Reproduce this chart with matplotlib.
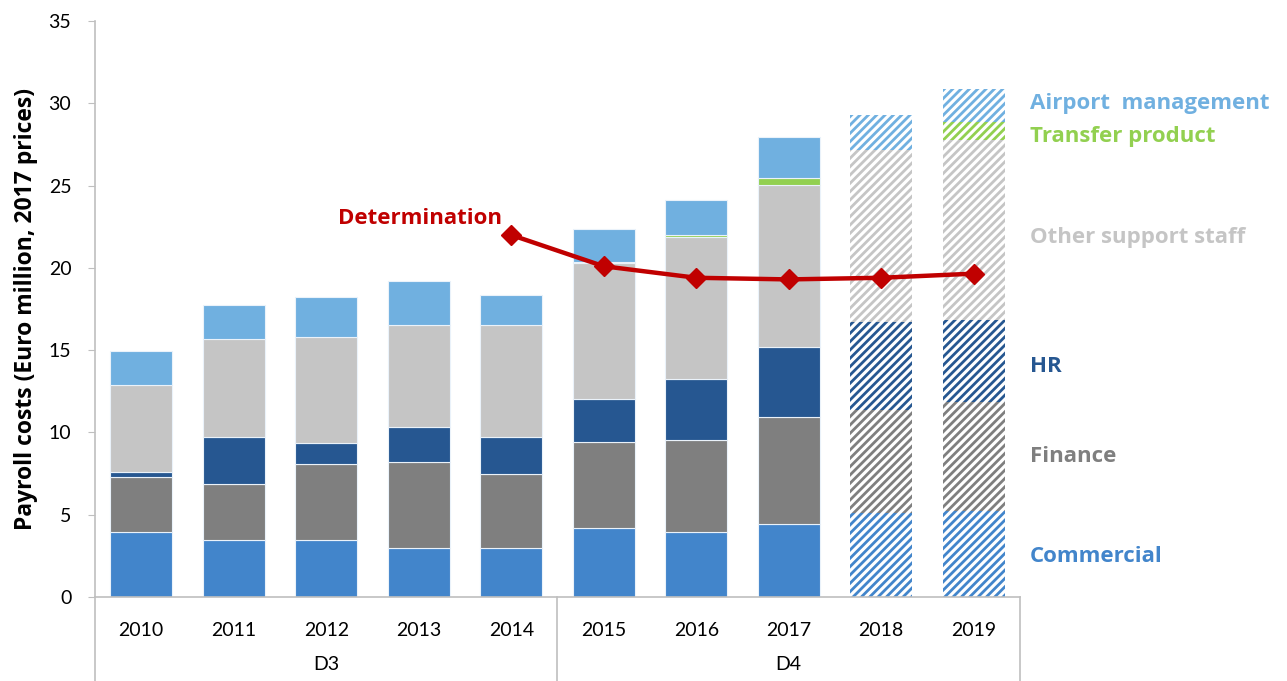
import matplotlib
matplotlib.use("Agg")
import matplotlib.pyplot as plt
import numpy as np

plt.rcParams['font.family'] = ['Lato', 'DejaVu Sans']
plt.rcParams['hatch.linewidth'] = 2.0

years = ["2010", "2011", "2012", "2013", "2014", "2015", "2016", "2017", "2018", "2019"]
groups = ["D3", "D4"]
commercial = [3.95, 3.46, 3.46, 2.98, 2.98, 4.19, 3.95, 4.43, 5.10, 5.20]
finance = [3.35, 3.41, 4.62, 5.22, 4.49, 5.23, 5.59, 6.51, 6.26, 6.65]
hr = [0.30, 2.85, 1.28, 2.13, 2.25, 2.61, 3.70, 4.25, 5.34, 4.98]
other = [5.30, 5.95, 6.44, 6.20, 6.81, 8.27, 8.63, 9.84, 10.46, 10.93]
transfer = [0.0, 0.0, 0.0, 0.0, 0.0, 0.05, 0.13, 0.43, 0.0, 1.10]
airport = [2.05, 2.07, 2.43, 2.67, 1.82, 2.01, 2.10, 2.49, 2.12, 2.00]
determination_years = ["2014", "2015", "2016", "2017", "2018", "2019"]
determination = [22.0, 20.1, 19.4, 19.3, 19.4, 19.65]
forecast = [False] * 8 + [True] * 2

series = [
    ("Commercial", commercial, "#4285CB"),
    ("Finance", finance, "#7F7F7F"),
    ("HR", hr, "#265791"),
    ("Other support staff", other, "#C5C5C5"),
    ("Transfer product", transfer, "#92D050"),
    ("Airport  management", airport, "#70B0E0"),
]
label_y = {"Commercial": 2.47, "Finance": 8.55, "HR": 14.02, "Other support staff": 21.87,
           "Transfer product": 28.0, "Airport  management": 30.0}
label_font = ['Open Sans', 'DejaVu Sans']

fig = plt.figure(figsize=(12.87, 6.81), dpi=100)
ax = fig.add_axes([0.0738, 0.1233, 0.7187, 0.8458])

x = np.arange(len(years))
bottom = np.zeros(len(years))
width = 0.67
for name, vals, col in series:
    vals = np.array(vals)
    for i in range(len(years)):
        if vals[i] <= 0:
            continue
        if forecast[i]:
            ax.bar(x[i], vals[i], width, bottom=bottom[i], facecolor="white",
                   edgecolor=col, hatch="////", linewidth=0, zorder=2)
        else:
            ax.bar(x[i], vals[i], width, bottom=bottom[i], color=col,
                   edgecolor="#EAF2FA", linewidth=0.8, zorder=2)
    bottom += vals

xd = [years.index(y) for y in determination_years]
ax.plot(xd, determination, color="#C00000", lw=3.2, marker="D", ms=10, zorder=4,
        solid_capstyle="round")
ax.text(xd[0] - 0.1, determination[0] + 1.0, "Determination", color="#C00000",
        fontsize=16, fontweight="bold", ha="right", va="center", family=label_font)

for name, vals, col in series:
    ax.text(1.011, label_y[name], name, color=col, fontsize=16, fontweight="bold",
            ha="left", va="center", transform=ax.get_yaxis_transform(), clip_on=False,
            family=label_font)

ax.set_xlim(-0.5, len(years) - 0.5)
ax.set_ylim(0, 35)
ax.set_yticks(np.arange(0, 36, 5))
ax.set_xticks(x)
ax.set_xticklabels(years, fontsize=14)
ax.tick_params(axis="x", length=0, pad=18)
ax.tick_params(axis="y", labelsize=14, length=5, color="#BFBFBF", direction="out", pad=12)
ax.set_ylabel("Payroll costs (Euro million, 2017 prices)", fontsize=16.5, fontweight="bold",
              labelpad=8, family=label_font)

for s in ["top", "right"]:
    ax.spines[s].set_visible(False)
for s in ["left", "bottom"]:
    ax.spines[s].set_color("#BFBFBF")
    ax.spines[s].set_linewidth(1.2)

# group axis
for xf in [0, 0.5, 1.0]:
    ax.plot([xf, xf], [0, -0.15], transform=ax.transAxes, color="#BFBFBF", lw=1.2,
            clip_on=False)
ax.text(0.25, -0.118, groups[0], transform=ax.transAxes, ha="center", va="center", fontsize=14)
ax.text(0.75, -0.118, groups[1], transform=ax.transAxes, ha="center", va="center", fontsize=14)

fig.savefig("out.png", dpi=100)
